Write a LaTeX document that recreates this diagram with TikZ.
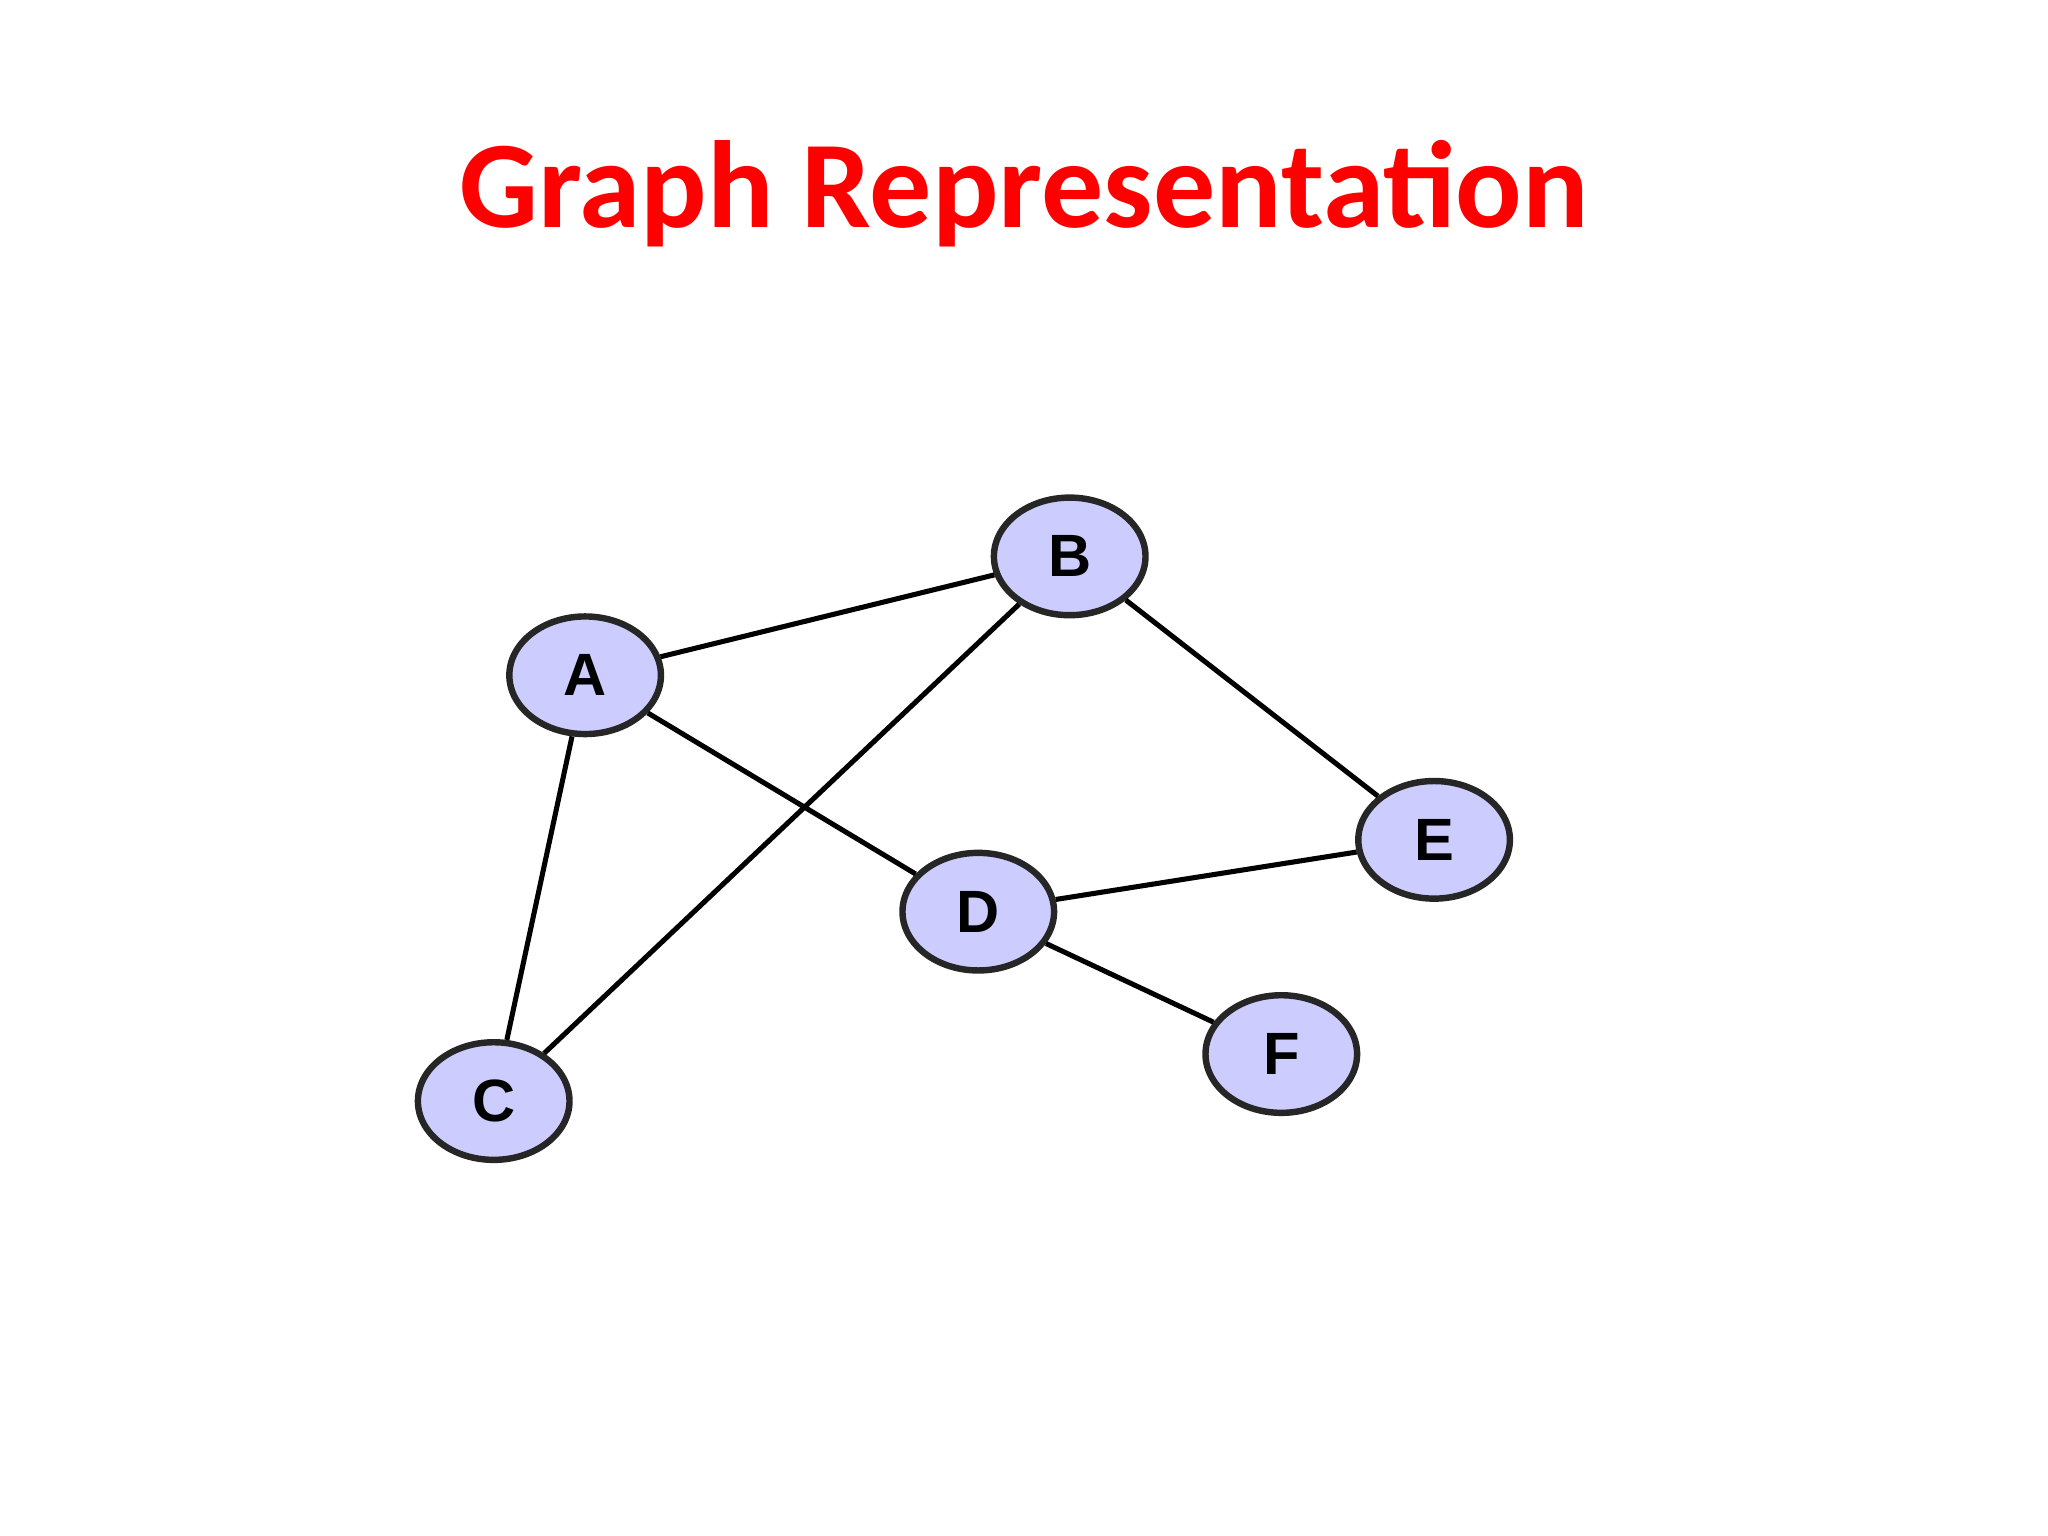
\documentclass[tikz,border=0pt]{standalone}
\usepackage{fontspec}
\setmainfont{Carlito}
\newfontfamily\nodefont{Liberation Sans}
\usetikzlibrary{shapes.geometric}
\definecolor{vfill}{RGB}{204,204,255}
\definecolor{tred}{RGB}{255,0,0}
\begin{document}
\begin{tikzpicture}[x=0.01cm,y=-0.01cm,
  vert/.style={ellipse,draw=black!85,line width=1.4pt,fill=vfill,minimum width=116\pgflinewidth*0+1.16cm,minimum height=0.9cm,inner sep=0pt,font=\nodefont\bfseries\fontsize{13pt}{13pt}\selectfont},
  edge/.style={line width=1.1pt,black}]
\useasboundingbox (0,0) rectangle (1568,1176);
\node[font=\bfseries\fontsize{27pt}{27pt}\selectfont,text=tred] (title) at (784,148) {Graph Representation};
\node[vert] (A) at (448,517) {A};
\node[vert] (B) at (819,426) {B};
\node[vert] (C) at (378,843) {C};
\node[vert] (D) at (749,698) {D};
\node[vert] (E) at (1098,643) {E};
\node[vert] (F) at (981,807) {F};
\begin{scope}[on background layer/.style={}]
\end{scope}
\draw[edge] (A) -- (B);
\draw[edge] (A) -- (D);
\draw[edge] (A) -- (C);
\draw[edge] (B) -- (C);
\draw[edge] (B) -- (E);
\draw[edge] (D) -- (E);
\draw[edge] (D) -- (F);
\end{tikzpicture}
\end{document}
